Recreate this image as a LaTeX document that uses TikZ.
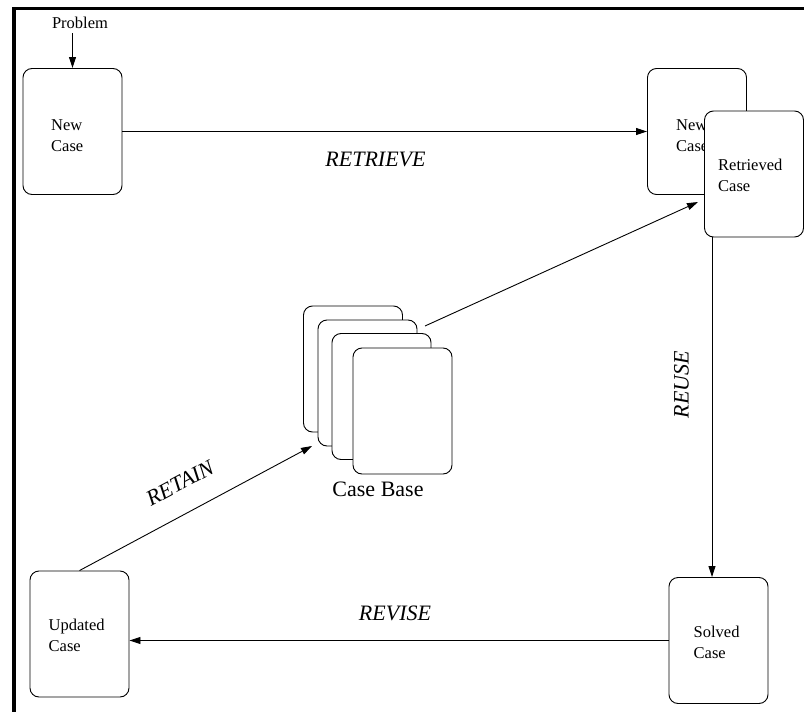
\documentclass[tikz,border=0pt]{standalone}
\usepackage{fontspec}
\setmainfont{Liberation Serif}
\usetikzlibrary{arrows.meta}
\begin{document}
\begin{tikzpicture}[x=1pt,y=-1pt,
  card/.style={draw, line width=0.9pt, rounded corners=9pt, minimum width=99pt, minimum height=126pt, inner sep=0pt, fill=white},
  boxtext/.style={inner sep=0pt, align=left, font=\fontsize{16.5}{21}\selectfont},
  lbl/.style={inner sep=0pt, font=\fontsize{22}{26}\selectfont\itshape},
  conn/.style={line width=0.9pt, -{Triangle[length=11pt,width=7pt]}}]
\useasboundingbox (0,0) rectangle (804,712);
\draw[line width=3.3pt] (14,712) -- (14,8.3) -- (804,8.3);
% boxes
\node[card] (newcase) at (72.5,131.5) {};
\node[boxtext, anchor=base west] (tnew) at (51,151) {New\\Case};
\node[card] (newcase2) at (697,131.5) {};
\node[boxtext, anchor=base west] (tnew2) at (676,151) {New\\Case};
\node[card] (retrieved) at (754,174) {};
\node[boxtext, anchor=base west] (tret) at (718,191) {Retrieved\\Case};
\node[card] (solved) at (718.5,640.5) {};
\node[boxtext, anchor=base west] (tsol) at (693.5,658) {Solved\\Case};
\node[card] (updated) at (79.5,634) {};
\node[boxtext, anchor=base west] (tupd) at (48.5,651) {Updated\\Case};
% case base stack
\node[card] (cb1) at (353,369) {};
\node[card] (cb2) at (367.5,383) {};
\node[card] (cb3) at (381.5,396.5) {};
\node[card] (cb4) at (402.5,411) {};
\node[inner sep=0pt, font=\fontsize{22}{26}\selectfont] (cbl) at (378,489) {Case Base};
% problem
\node[inner sep=0pt, font=\fontsize{16.5}{20}\selectfont, anchor=base] (prob) at (80,28) {Problem};
\coordinate (probtail) at (72.5,33);
\draw[conn] (probtail) -- (newcase.north);
% retrieve
\draw[conn] (newcase.east) -- (newcase2.west);
\node[lbl] (lretrieve) at (375.5,159.5) {RETRIEVE};
\coordinate (cbout) at (425,326);
\coordinate (retin) at (698,202);
\draw[conn] (cbout) -- (retin);
% reuse
\draw[conn] ([xshift=-42pt]retrieved.south) -- ([xshift=-6.5pt]solved.north);
\node[lbl, rotate=90] (lreuse) at (681.5,384.5) {REUSE};
% revise
\draw[conn] (solved.west) -- (solved.west -| updated.east);
\node[lbl] (lrevise) at (395,613) {REVISE};
% retain
\coordinate (retaintip) at (312,446);
\draw[conn] (updated.north) -- (retaintip);
\node[lbl, rotate=28] (lretain) at (180,483) {RETAIN};
\end{tikzpicture}
\end{document}
